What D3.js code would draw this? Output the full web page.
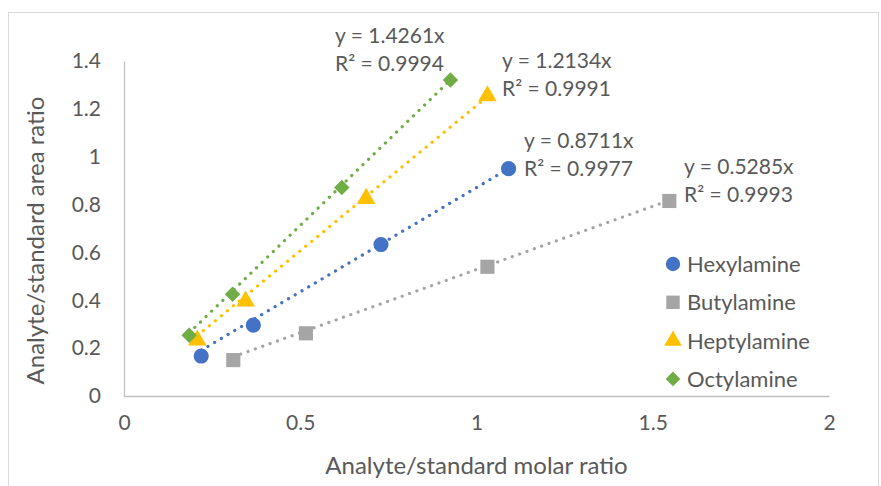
<!DOCTYPE html>
<html>
<head>
<meta charset="utf-8">
<script src="https://cdn.jsdelivr.net/npm/d3@7"></script>
<style>
  body { margin: 0; background: #fff; }
  text { font-family: Lato, "Open Sans", sans-serif; fill: #595959; }
</style>
</head>
<body>
<svg id="chart"></svg>
<script>
// series names and colours
const seriesNames = ["Hexylamine", "Butylamine", "Heptylamine", "Octylamine"]
const seriesColors = ["#4472C4", "#A5A5A5", "#FFC000", "#70AD47"]
const seriesShapes = ["circle", "square", "triangle", "diamond"]

// measured points (molar ratio, area ratio)
const hexylX = [0.219, 0.367, 0.729, 1.091]
const hexylY = [0.167, 0.296, 0.633, 0.950]
const butylX = [0.31, 0.516, 1.031, 1.547]
const butylY = [0.15, 0.262, 0.540, 0.815]
const heptylX = [0.208, 0.345, 0.687, 1.031]
const heptylY = [0.233, 0.396, 0.825, 1.254]
const octylX = [0.185, 0.308, 0.618, 0.926]
const octylY = [0.254, 0.425, 0.871, 1.321]

// trendline fits
const slopes = [0.8711, 0.5285, 1.2134, 1.4261]
const rSquared = ["0.9977", "0.9993", "0.9991", "0.9994"]

const xTicks = [0, 0.5, 1, 1.5, 2]
const yTicks = [0, 0.2, 0.4, 0.6, 0.8, 1, 1.2, 1.4]

const width = 881, height = 486
const margin = {top: 61, right: 52, bottom: 90, left: 124}

const svg = d3.select("#chart").attr("width", width).attr("height", height)

// outer chart border
svg.append("rect")
    .attr("x", 8.5).attr("y", 12.5)
    .attr("width", 870).attr("height", 480)
    .attr("fill", "none").attr("stroke", "#D9D9D9")

const xScale = d3.scaleLinear().domain([0, 2]).range([margin.left, width - margin.right])
const yScale = d3.scaleLinear().domain([0, 1.4]).range([height - margin.bottom, margin.top])

// axes: lines only, labels styled like excel
const xAxis = svg.append("g")
    .attr("transform", `translate(0,${yScale(0)})`)
    .call(d3.axisBottom(xScale).tickValues(xTicks).tickSize(0).tickPadding(19).tickFormat(d => d))
xAxis.select(".domain").attr("stroke", "#BFBFBF").attr("stroke-width", 1.3)
xAxis.selectAll("text").style("font-size", "21px").attr("fill", "#595959")

const yAxis = svg.append("g")
    .attr("transform", `translate(${xScale(0)},0)`)
    .call(d3.axisLeft(yScale).tickValues(yTicks).tickSize(0).tickPadding(23).tickFormat(d => d))
yAxis.select(".domain").attr("stroke", "#BFBFBF").attr("stroke-width", 1.3)
yAxis.selectAll("text").style("font-size", "21px").attr("fill", "#595959")

svg.append("text")
    .text("Analyte/standard molar ratio")
    .attr("x", (xScale(0) + xScale(2)) / 2)
    .attr("y", 474)
    .attr("text-anchor", "middle")
    .style("font-size", "24px")

svg.append("text")
    .text("Analyte/standard area ratio")
    .attr("transform", `translate(44, ${(yScale(0) + yScale(1.4)) / 2 + 12}) rotate(-90)`)
    .attr("text-anchor", "middle")
    .style("font-size", "24px")

const allX = [hexylX, butylX, heptylX, octylX]
const allY = [hexylY, butylY, heptylY, octylY]

const series = seriesNames.map((name, i) => ({
    name: name,
    color: seriesColors[i],
    shape: seriesShapes[i],
    slope: slopes[i],
    r2: rSquared[i],
    points: allX[i].map((x, j) => ({x: x, y: allY[i][j]}))
}))

// excel style diamond = square turned 45 degrees
const squareDiamond = {
    draw(context, size) {
        const r = Math.sqrt(size / 2)
        context.moveTo(0, -r)
        context.lineTo(r, 0)
        context.lineTo(0, r)
        context.lineTo(-r, 0)
        context.closePath()
    }
}

const symbolFor = {
    circle: d3.symbolCircle,
    square: d3.symbolSquare,
    triangle: d3.symbolTriangle,
    diamond: squareDiamond
}
const symbolSize = {circle: 180, square: 200, triangle: 150, diamond: 120}

// dotted trendlines through the origin, spanning the data
const trend = svg.append("g")
trend.selectAll("line")
    .data(series)
    .join("line")
    .attr("x1", d => xScale(d3.min(d.points, p => p.x)))
    .attr("y1", d => yScale(d.slope * d3.min(d.points, p => p.x)))
    .attr("x2", d => xScale(d3.max(d.points, p => p.x)))
    .attr("y2", d => yScale(d.slope * d3.max(d.points, p => p.x)))
    .attr("stroke", d => d.color)
    .attr("stroke-width", 3.2)
    .attr("stroke-linecap", "round")
    .attr("stroke-dasharray", "0.1 7.7")

// markers
series.forEach(s => {
    svg.append("g").selectAll("path")
        .data(s.points)
        .join("path")
        .attr("d", d3.symbol().type(symbolFor[s.shape]).size(symbolSize[s.shape]))
        .attr("transform", d => `translate(${xScale(d.x)},${yScale(d.y)})`)
        .attr("fill", s.color)
})

// equation labels near the end of each line
const labelPos = [[524, 148], [684, 174], [502, 68], [335, 43]]
series.forEach((s, i) => {
    let g = svg.append("text")
        .attr("x", labelPos[i][0])
        .attr("y", labelPos[i][1])
        .style("font-size", "21px")
    g.append("tspan").attr("x", labelPos[i][0]).text(`y = ${s.slope}x`)
    g.append("tspan").attr("x", labelPos[i][0]).attr("dy", 28).text(`R² = ${s.r2}`)
})

// legend
const legend = svg.append("g").attr("transform", "translate(673, 264)")
const rows = legend.selectAll("g")
    .data(series)
    .join("g")
    .attr("transform", (d, i) => `translate(0, ${i * 38.3})`)
rows.append("path")
    .attr("d", d => d3.symbol().type(symbolFor[d.shape]).size(symbolSize[d.shape] * 0.9)())
    .attr("fill", d => d.color)
rows.append("text")
    .text(d => d.name)
    .attr("x", 14)
    .attr("y", 8)
    .style("font-size", "22px")
</script>
</body>
</html>
